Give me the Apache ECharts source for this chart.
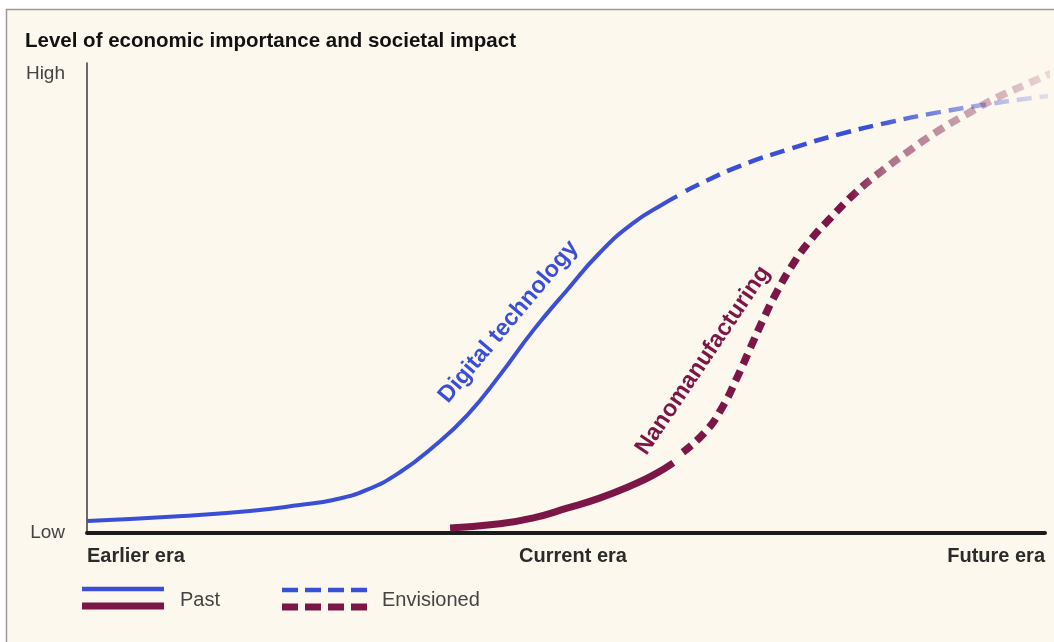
<!DOCTYPE html>
<html>
<head>
<meta charset="utf-8">
<script src="https://cdn.jsdelivr.net/npm/echarts@6/dist/echarts.min.js"></script>
<style>
html,body{margin:0;padding:0;background:#ffffff;}
#chart{width:1054px;height:642px;}
</style>
</head>
<body>
<div id="chart"></div>
<script>
// ---- data ----
var titleText = 'Level of economic importance and societal impact';
var yTickLabels = {0: 'Low', 100: 'High'};
var xTickLabels = {0: 'Earlier era', 50: 'Current era', 100: 'Future era'};
var legendLabels = ['Past', 'Envisioned'];
var curveNames = ['Digital technology', 'Nanomanufacturing'];

var digitalPast = [
  [0, 2.6], [10, 3.7], [17, 4.8], [22.2, 6.1], [25.7, 7.2], [29.2, 9.4], [32.7, 13.3],
  [36.1, 18.7], [39.7, 25.7], [43.1, 34.4], [46.6, 44.2], [50.1, 52.9], [53.5, 61.0],
  [57.0, 67.5], [60.5, 72.1], [61.6, 73.4]
];
var digitalEnvisioned = [
  [62.5, 74.5], [64.0, 76.1], [68.2, 80.0], [73.4, 83.7], [78.6, 86.9], [83.8, 89.5],
  [89.0, 91.7], [94.3, 93.5], [99.5, 95.0], [100.7, 95.2]
];
var nanoPast = [
  [37.9, 1.1], [43.1, 2.0], [46.6, 3.3], [50.1, 5.4], [53.5, 7.6], [57.0, 10.5],
  [59.1, 12.6], [61.2, 15.3]
];
var nanoEnvisioned = [
  [62.2, 17.6], [64.7, 22.4], [66.4, 27.7], [67.8, 33.6], [69.2, 40.1], [70.6, 46.6],
  [72.0, 52.5], [73.7, 58.6], [75.5, 63.8], [77.6, 68.6], [80.2, 74.1], [82.8, 78.6],
  [85.9, 83.4], [89.0, 87.8], [92.2, 91.7], [95.3, 95.2], [97.9, 97.6], [100.7, 100.2]
];
var digitalLabelAt = [44.0, 46.0];
var nanoLabelAt = [64.3, 37.6];

// ---- style ----
var BLUE = '#3a4fd6';
var MAROON = '#7b1646';
var FONT = '"Liberation Sans", Arial, sans-serif';

function fade(r, g, b, stops) {
  return new echarts.graphic.LinearGradient(0, 0, 1, 0, stops.map(function (s) {
    return {offset: s[0], color: 'rgba(' + r + ',' + g + ',' + b + ',' + s[1] + ')'};
  }));
}

var chart = echarts.init(document.getElementById('chart'), null, {renderer: 'canvas'});

var option = {
  backgroundColor: '#ffffff',
  animation: false,
  grid: {left: 87, right: 9, top: 63, bottom: 109, containLabel: false},
  xAxis: {
    type: 'value', min: 0, max: 100, interval: 50,
    axisLine: {show: true, lineStyle: {color: '#1c1c1c', width: 4}},
    axisTick: {show: false},
    splitLine: {show: false},
    axisLabel: {
      margin: 13, fontFamily: FONT, fontWeight: 'bold', fontSize: 20, color: '#2b2b2b',
      alignMinLabel: 'left', alignMaxLabel: 'right',
      formatter: function (v) {
        var t = xTickLabels[v] || '';
        return v === 50 ? '{c|' + t + '}' : t;
      },
      rich: {
        c: {fontFamily: FONT, fontWeight: 'bold', fontSize: 20, color: '#2b2b2b', padding: [0, 0, 0, 14]}
      }
    }
  },
  yAxis: {
    type: 'value', min: 0, max: 102.4, interval: 100,
    axisLine: {show: true, lineStyle: {color: '#3a3a3a', width: 1.5}},
    axisTick: {show: false},
    splitLine: {show: false},
    axisLabel: {
      margin: 22, fontFamily: FONT, fontSize: 19, color: '#444',
      formatter: function (v) { return yTickLabels[v] || ''; }
    }
  },
  series: [
    {
      name: curveNames[0] + ' past', type: 'line', data: digitalPast, smooth: 0.5,
      showSymbol: false, clip: false, z: 3,
      lineStyle: {color: BLUE, width: 4, cap: 'butt'},
      markPoint: {
        symbol: 'circle', symbolSize: 0, silent: true,
        label: {
          show: true, position: 'inside', rotate: 50, formatter: curveNames[0],
          fontFamily: FONT, fontWeight: 'bold', fontSize: 23.5, color: BLUE
        },
        data: [{coord: digitalLabelAt}]
      }
    },
    {
      name: curveNames[0] + ' envisioned', type: 'line', data: digitalEnvisioned, smooth: 0.5,
      showSymbol: false, clip: false, z: 3,
      lineStyle: {
        color: fade(58, 79, 214, [[0, 1], [0.5, 1], [0.72, 0.6], [0.88, 0.3], [1, 0.12]]),
        width: 4.5, type: [15, 8], cap: 'butt'
      }
    },
    {
      name: curveNames[1] + ' past', type: 'line', data: nanoPast, smooth: 0.5,
      showSymbol: false, clip: false, z: 4,
      lineStyle: {color: MAROON, width: 7, cap: 'butt'},
      markPoint: {
        symbol: 'circle', symbolSize: 0, silent: true,
        label: {
          show: true, position: 'inside', rotate: 56, formatter: curveNames[1],
          fontFamily: FONT, fontWeight: 'bold', fontSize: 23.5, color: MAROON
        },
        data: [{coord: nanoLabelAt}]
      }
    },
    {
      name: curveNames[1] + ' envisioned', type: 'line', data: nanoEnvisioned, smooth: 0.5,
      showSymbol: false, clip: false, z: 4,
      lineStyle: {
        color: fade(123, 22, 70, [[0, 1], [0.45, 1], [0.55, 0.6], [0.75, 0.4], [0.9, 0.25], [1, 0.12]]),
        width: 7.5, type: [11, 7], cap: 'butt'
      }
    }
  ],
  graphic: [
    {
      type: 'rect', z: -10, silent: true,
      shape: {x: 6.5, y: 9.5, width: 1100, height: 700},
      style: {fill: '#fcf8ee', stroke: '#9a9a94', lineWidth: 1.5}
    },
    {
      type: 'text', left: 25, top: 31, z: 10,
      style: {text: titleText, font: 'bold 20.5px ' + FONT, fill: '#111'}
    },
    // legend: past
    {type: 'line', z: 10, shape: {x1: 82, y1: 589, x2: 164, y2: 589},
      style: {stroke: BLUE, lineWidth: 4.5}},
    {type: 'line', z: 10, shape: {x1: 82, y1: 606, x2: 164, y2: 606},
      style: {stroke: MAROON, lineWidth: 7}},
    {type: 'text', left: 180, top: 590, z: 10,
      style: {text: legendLabels[0], font: '20px ' + FONT, fill: '#444'}},
    // legend: envisioned
    {type: 'line', z: 10, shape: {x1: 282, y1: 590, x2: 368, y2: 590},
      style: {stroke: BLUE, lineWidth: 4.5, lineDash: [16, 7]}},
    {type: 'line', z: 10, shape: {x1: 282, y1: 607, x2: 368, y2: 607},
      style: {stroke: MAROON, lineWidth: 7, lineDash: [16, 7]}},
    {type: 'text', left: 382, top: 590, z: 10,
      style: {text: legendLabels[1], font: '20px ' + FONT, fill: '#444'}}
  ]
};
chart.setOption(option);
</script>
</body>
</html>
